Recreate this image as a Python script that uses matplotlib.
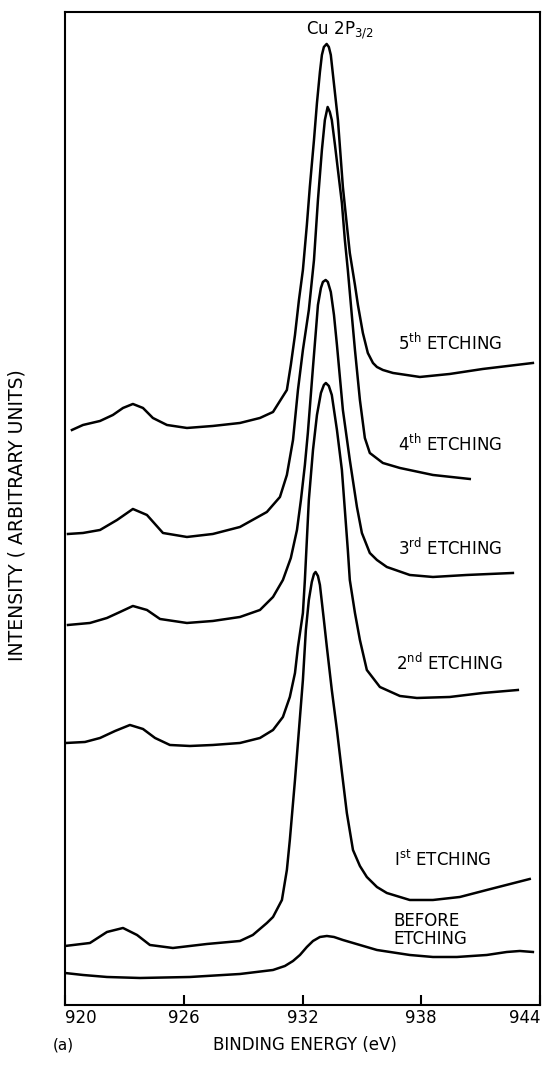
# XPS Cu 2p3/2 spectra after successive etchings

import numpy as np
import matplotlib.pyplot as plt

# Binding energy (eV) and intensity (arbitrary units)

# 5th etching
be_5th = [920.35, 920.91, 921.77, 922.42, 922.93, 923.43, 923.94, 924.44, 925.15, 926.16,
          927.47, 928.84, 929.85, 930.51, 931.21, 931.41, 931.62, 931.82, 932.02, 932.22,
          932.37, 932.58, 932.73, 932.88, 932.98, 933.08, 933.22, 933.33, 933.43, 933.54,
          933.79, 934.04, 934.24, 934.39, 934.65, 934.80, 935.05, 935.30, 935.56, 935.76,
          936.06, 936.57, 937.93, 939.44, 941.11, 943.64]
int_5th = [575, 580, 584, 590, 597, 601, 597, 587, 580, 577,
           579, 582, 587, 593, 615, 640, 670, 705, 735, 780,
           818, 865, 902, 933, 950, 958, 961, 958, 950, 930,
           885, 818, 780, 752, 720, 700, 672, 652, 642, 638,
           635, 632, 628, 631, 636, 642]

# 4th etching
be_4th = [920.15, 920.91, 921.77, 922.63, 923.43, 924.14, 924.95, 926.16, 927.47, 928.84,
          930.20, 930.86, 931.21, 931.52, 931.77, 932.02, 932.32, 932.58, 932.78, 932.98,
          933.13, 933.27, 933.38, 933.48, 933.64, 933.79, 933.99, 934.14, 934.29, 934.49,
          934.65, 934.90, 935.15, 935.40, 936.06, 936.92, 938.59, 940.45]
int_4th = [471, 472, 475, 485, 496, 490, 472, 468, 471, 478,
           493, 508, 530, 565, 615, 655, 695, 745, 805, 855,
           885, 898, 893, 885, 860, 835, 802, 765, 735, 690,
           655, 605, 567, 552, 542, 537, 530, 526]

# 3rd etching
be_3rd = [920.15, 921.26, 922.12, 922.78, 923.43, 924.14, 924.80, 926.16, 927.47, 928.84,
          929.85, 930.51, 931.01, 931.41, 931.72, 931.92, 932.12, 932.27, 932.53, 932.68,
          932.78, 932.93, 933.03, 933.17, 933.28, 933.43, 933.59, 933.74, 934.04, 934.39,
          934.75, 935.00, 935.40, 935.76, 936.26, 937.42, 938.59, 940.30, 942.63]
int_3rd = [380, 382, 387, 393, 399, 395, 386, 382, 384, 388,
           395, 408, 425, 447, 475, 505, 540, 572, 638, 675,
           700, 717, 723, 725, 723, 713, 690, 660, 595, 545,
           498, 472, 452, 445, 438, 430, 428, 430, 432]

# 2nd etching
be_2nd = [920.05, 921.01, 921.77, 922.53, 923.28, 923.94, 924.55, 925.30, 926.31, 927.47,
          928.84, 929.85, 930.51, 931.01, 931.36, 931.62, 931.77, 932.02, 932.12, 932.22,
          932.32, 932.53, 932.73, 932.93, 933.08, 933.18, 933.33, 933.48, 933.74, 933.99,
          934.14, 934.29, 934.39, 934.65, 934.90, 935.25, 935.91, 936.92, 937.78, 939.44,
          941.11, 942.88]
int_2nd = [262, 263, 267, 274, 280, 276, 267, 260, 259, 260,
           262, 267, 275, 288, 308, 332, 358, 392, 425, 465,
           505, 555, 590, 612, 620, 622, 619, 610, 575, 535,
           495, 455, 425, 392, 365, 335, 318, 309, 307, 308,
           312, 315]

# 1st etching
be_1st = [920.00, 921.26, 922.12, 922.93, 923.64, 924.29, 925.45, 927.17, 928.84, 929.49,
          930.20, 930.51, 930.96, 931.21, 931.36, 931.62, 931.82, 932.02, 932.17, 932.32,
          932.47, 932.58, 932.66, 932.78, 932.88, 933.08, 933.23, 933.48, 933.74, 933.99,
          934.24, 934.55, 934.90, 935.25, 935.76, 936.26, 937.42, 938.59, 939.95, 941.31,
          943.48]
int_1st = [59, 62, 73, 77, 70, 60, 57, 61, 64, 70,
           82, 88, 105, 135, 165, 225, 275, 325, 375, 405,
           423, 431, 433, 429, 420, 385, 358, 315, 275, 233,
           192, 155, 139, 128, 118, 112, 105, 105, 108, 115,
           126]

# before etching
be_before = [920.00, 920.91, 922.12, 923.79, 926.31, 928.84, 930.51, 931.11, 931.52, 931.87,
             932.22, 932.53, 932.88, 933.23, 933.59, 934.04, 934.90, 935.76, 937.42, 938.59,
             939.80, 941.31, 942.32, 942.98, 943.64]
int_before = [32, 30, 28, 27, 28, 31, 35, 39, 44, 50,
              58, 64, 68, 69, 68, 65, 60, 55, 50, 48,
              48, 50, 53, 54, 53]

spectra = [
    (be_5th, int_5th),
    (be_4th, int_4th),
    (be_3rd, int_3rd),
    (be_2nd, int_2nd),
    (be_1st, int_1st),
    (be_before, int_before),
]

# curve labels: text, left energy, intensity
labels = [
    (r"5$^{\mathrm{th}}$ ETCHING", 936.8, 662),
    (r"4$^{\mathrm{th}}$ ETCHING", 936.8, 561),
    (r"3$^{\mathrm{rd}}$ ETCHING", 936.8, 457),
    (r"2$^{\mathrm{nd}}$ ETCHING", 936.7, 342),
    (r"I$^{\mathrm{st}}$ ETCHING", 936.6, 145),
    ("BEFORE\nETCHING", 936.6, 75),
]

x_ticks = [920, 926, 932, 938, 944]

# Plot
fig = plt.figure(figsize=(5.43, 10.68), dpi=100)
ax = fig.add_axes([0.1197, 0.0590, 0.8748, 0.9298])

for be, inten in spectra:
    ax.plot(be, inten, color="black", linewidth=1.8, solid_joinstyle="round")

for text, xpos, ypos in labels:
    ax.text(xpos, ypos, text, fontsize=12, ha="left", va="center", linespacing=0.95)

ax.text(933.9, 975, r"Cu 2P$_{3/2}$", fontsize=12, ha="center", va="center")

ax.set_xlim(920, 944)
ax.set_ylim(0, 993)
ax.set_xticks(x_ticks)
ax.set_xticklabels([str(t) for t in x_ticks], fontsize=12)
# end labels sit inside the frame edges
tick_texts = ax.get_xticklabels()
tick_texts[0].set_ha("left")
tick_texts[-1].set_ha("right")
ax.set_yticks([])
ax.tick_params(axis="x", direction="in", length=7, width=1.5, pad=3)
for side in ["left", "right", "top", "bottom"]:
    ax.spines[side].set_linewidth(1.5)

fig.text(305 / 543, 1 - 1045 / 1068, "BINDING ENERGY (eV)", fontsize=12,
         ha="center", va="center")
fig.text(63 / 543, 1 - 1045 / 1068, "(a)", fontsize=11, ha="center", va="center")
fig.text(17 / 543, 1 - 515 / 1068, "INTENSITY ( ARBITRARY UNITS)", fontsize=13.5,
         rotation=90, ha="center", va="center")

fig.savefig("out.png", dpi=100)
